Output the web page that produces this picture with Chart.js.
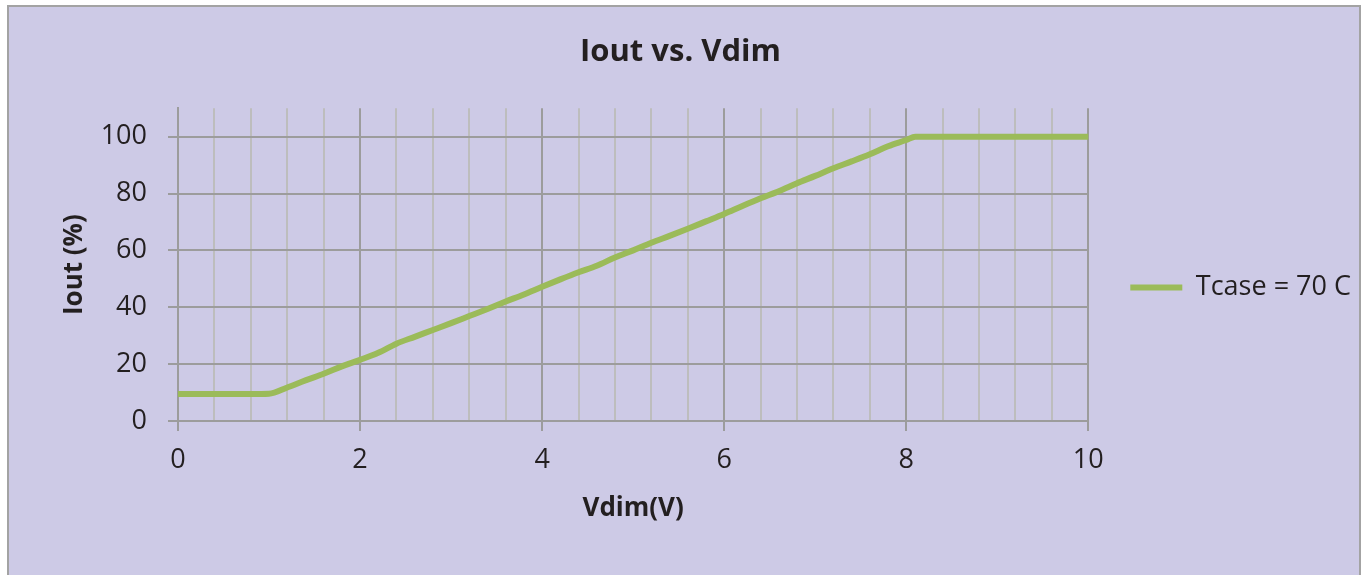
<!DOCTYPE html>
<html>
<head>
<meta charset="utf-8">
<script src="https://cdn.jsdelivr.net/npm/chart.js@4.4.1/dist/chart.umd.min.js"></script>
<style>
  html, body { margin: 0; padding: 0; background: #ffffff; overflow: hidden; }
  #frame {
    position: absolute; left: 7px; top: 5px; width: 1354px; height: 600px;
    background: #CDCAE6; border: 2px solid #A3A3A3; box-sizing: border-box;
  }
  #chart { position: absolute; left: 0; top: 0; }
</style>
</head>
<body>
<div id="frame"></div>
<canvas id="chart" width="1367" height="575"></canvas>
<script>
  // values
  const vdim = [0, 0.2, 0.4, 0.6, 0.8, 1.0, 1.2, 1.4, 1.6, 1.8, 2.0, 2.2, 2.4, 2.6, 2.8, 3.0,
                3.2, 3.4, 3.6, 3.8, 4.0, 4.2, 4.4, 4.6, 4.8, 5.0, 5.2, 5.4, 5.6, 5.8, 6.0,
                6.2, 6.4, 6.6, 6.8, 7.0, 7.2, 7.4, 7.6, 7.8, 8.0, 8.1, 8.5, 9.0, 9.5, 10];
  const iout = [9.5, 9.5, 9.5, 9.5, 9.5, 9.6, 11.8, 14.3, 16.6, 19.2, 21.5, 24.0, 27.2, 29.6, 32.0, 34.4,
                36.9, 39.4, 42.0, 44.5, 47.2, 49.8, 52.3, 54.6, 57.5, 60.0, 62.7, 65.1, 67.6, 70.2, 72.8,
                75.6, 78.3, 80.8, 83.6, 86.2, 88.9, 91.3, 93.8, 96.6, 98.8, 100, 100, 100, 100, 100];
  const seriesName = 'Tcase = 70 C';
  const yTicks = [0, 20, 40, 60, 80, 100];
  const xLabelled = [0, 2, 4, 6, 8, 10];

  const FONT = "'Open Sans', sans-serif";
  const TEXT = '#231F20';
  const GRID_MAJOR = '#9C9C9C';
  const GRID_MINOR = '#BDBDBD';
  const GREEN = '#9BBB59';

  const isMajor = v => xLabelled.some(m => Math.abs(m - v) < 1e-6);

  new Chart(document.getElementById('chart'), {
    type: 'line',
    data: {
      datasets: [{
        label: seriesName,
        data: vdim.map((v, i) => ({ x: v, y: iout[i] })),
        borderColor: GREEN,
        backgroundColor: GREEN,
        borderWidth: 6,
        pointRadius: 0,
        cubicInterpolationMode: 'monotone',
        borderCapStyle: 'round',
        borderJoinStyle: 'round'
      }]
    },
    options: {
      responsive: false,
      animation: false,
      devicePixelRatio: 1,
      layout: { padding: { left: 0, right: 6, top: 0, bottom: 0 } },
      plugins: {
        title: {
          display: true,
          text: 'Iout vs. Vdim',
          color: TEXT,
          font: { family: FONT, size: 31, weight: 'bold' },
          padding: { top: 34, bottom: 37 }
        },
        legend: {
          position: 'right',
          labels: {
            color: TEXT,
            font: { family: FONT, size: 27 },
            boxWidth: 52,
            boxHeight: 6,
            padding: 42,
            generateLabels: chart => Chart.defaults.plugins.legend.labels.generateLabels(chart)
              .map(l => ({ ...l, lineWidth: 0, fillStyle: GREEN }))
          }
        },
        tooltip: { enabled: false }
      },
      scales: {
        x: {
          type: 'linear',
          min: 0,
          max: 10,
          afterFit: scale => { scale.height = 154; },
          ticks: {
            stepSize: 0.4,
            autoSkip: false,
            maxRotation: 0,
            padding: 13,
            color: TEXT,
            font: { family: FONT, size: 27 },
            callback: v => isMajor(v) ? String(Math.round(v)) : ''
          },
          grid: {
            lineWidth: 2,
            tickLength: 10,
            color: ctx => isMajor(ctx.tick.value) ? GRID_MAJOR : GRID_MINOR,
            tickColor: ctx => isMajor(ctx.tick.value) ? GRID_MAJOR : 'rgba(0,0,0,0)'
          },
          border: { color: GRID_MAJOR, width: 2 },
          title: {
            display: true,
            text: 'Vdim(V)',
            color: TEXT,
            font: { family: FONT, size: 26, weight: 'bold' },
            padding: { top: 0, bottom: 51 }
          }
        },
        y: {
          min: 0,
          max: 110,
          afterFit: scale => { scale.width = 178; },
          afterBuildTicks: scale => { scale.ticks = yTicks.map(v => ({ value: v })); },
          ticks: {
            padding: 21,
            color: TEXT,
            font: { family: FONT, size: 27 }
          },
          grid: { lineWidth: 2, tickLength: 10, color: GRID_MAJOR },
          border: { color: GRID_MAJOR, width: 2 },
          title: {
            display: true,
            text: 'Iout (%)',
            color: TEXT,
            font: { family: FONT, size: 26, weight: 'bold' },
            padding: { top: 59, bottom: 0 }
          }
        }
      }
    }
  });
</script>
</body>
</html>
